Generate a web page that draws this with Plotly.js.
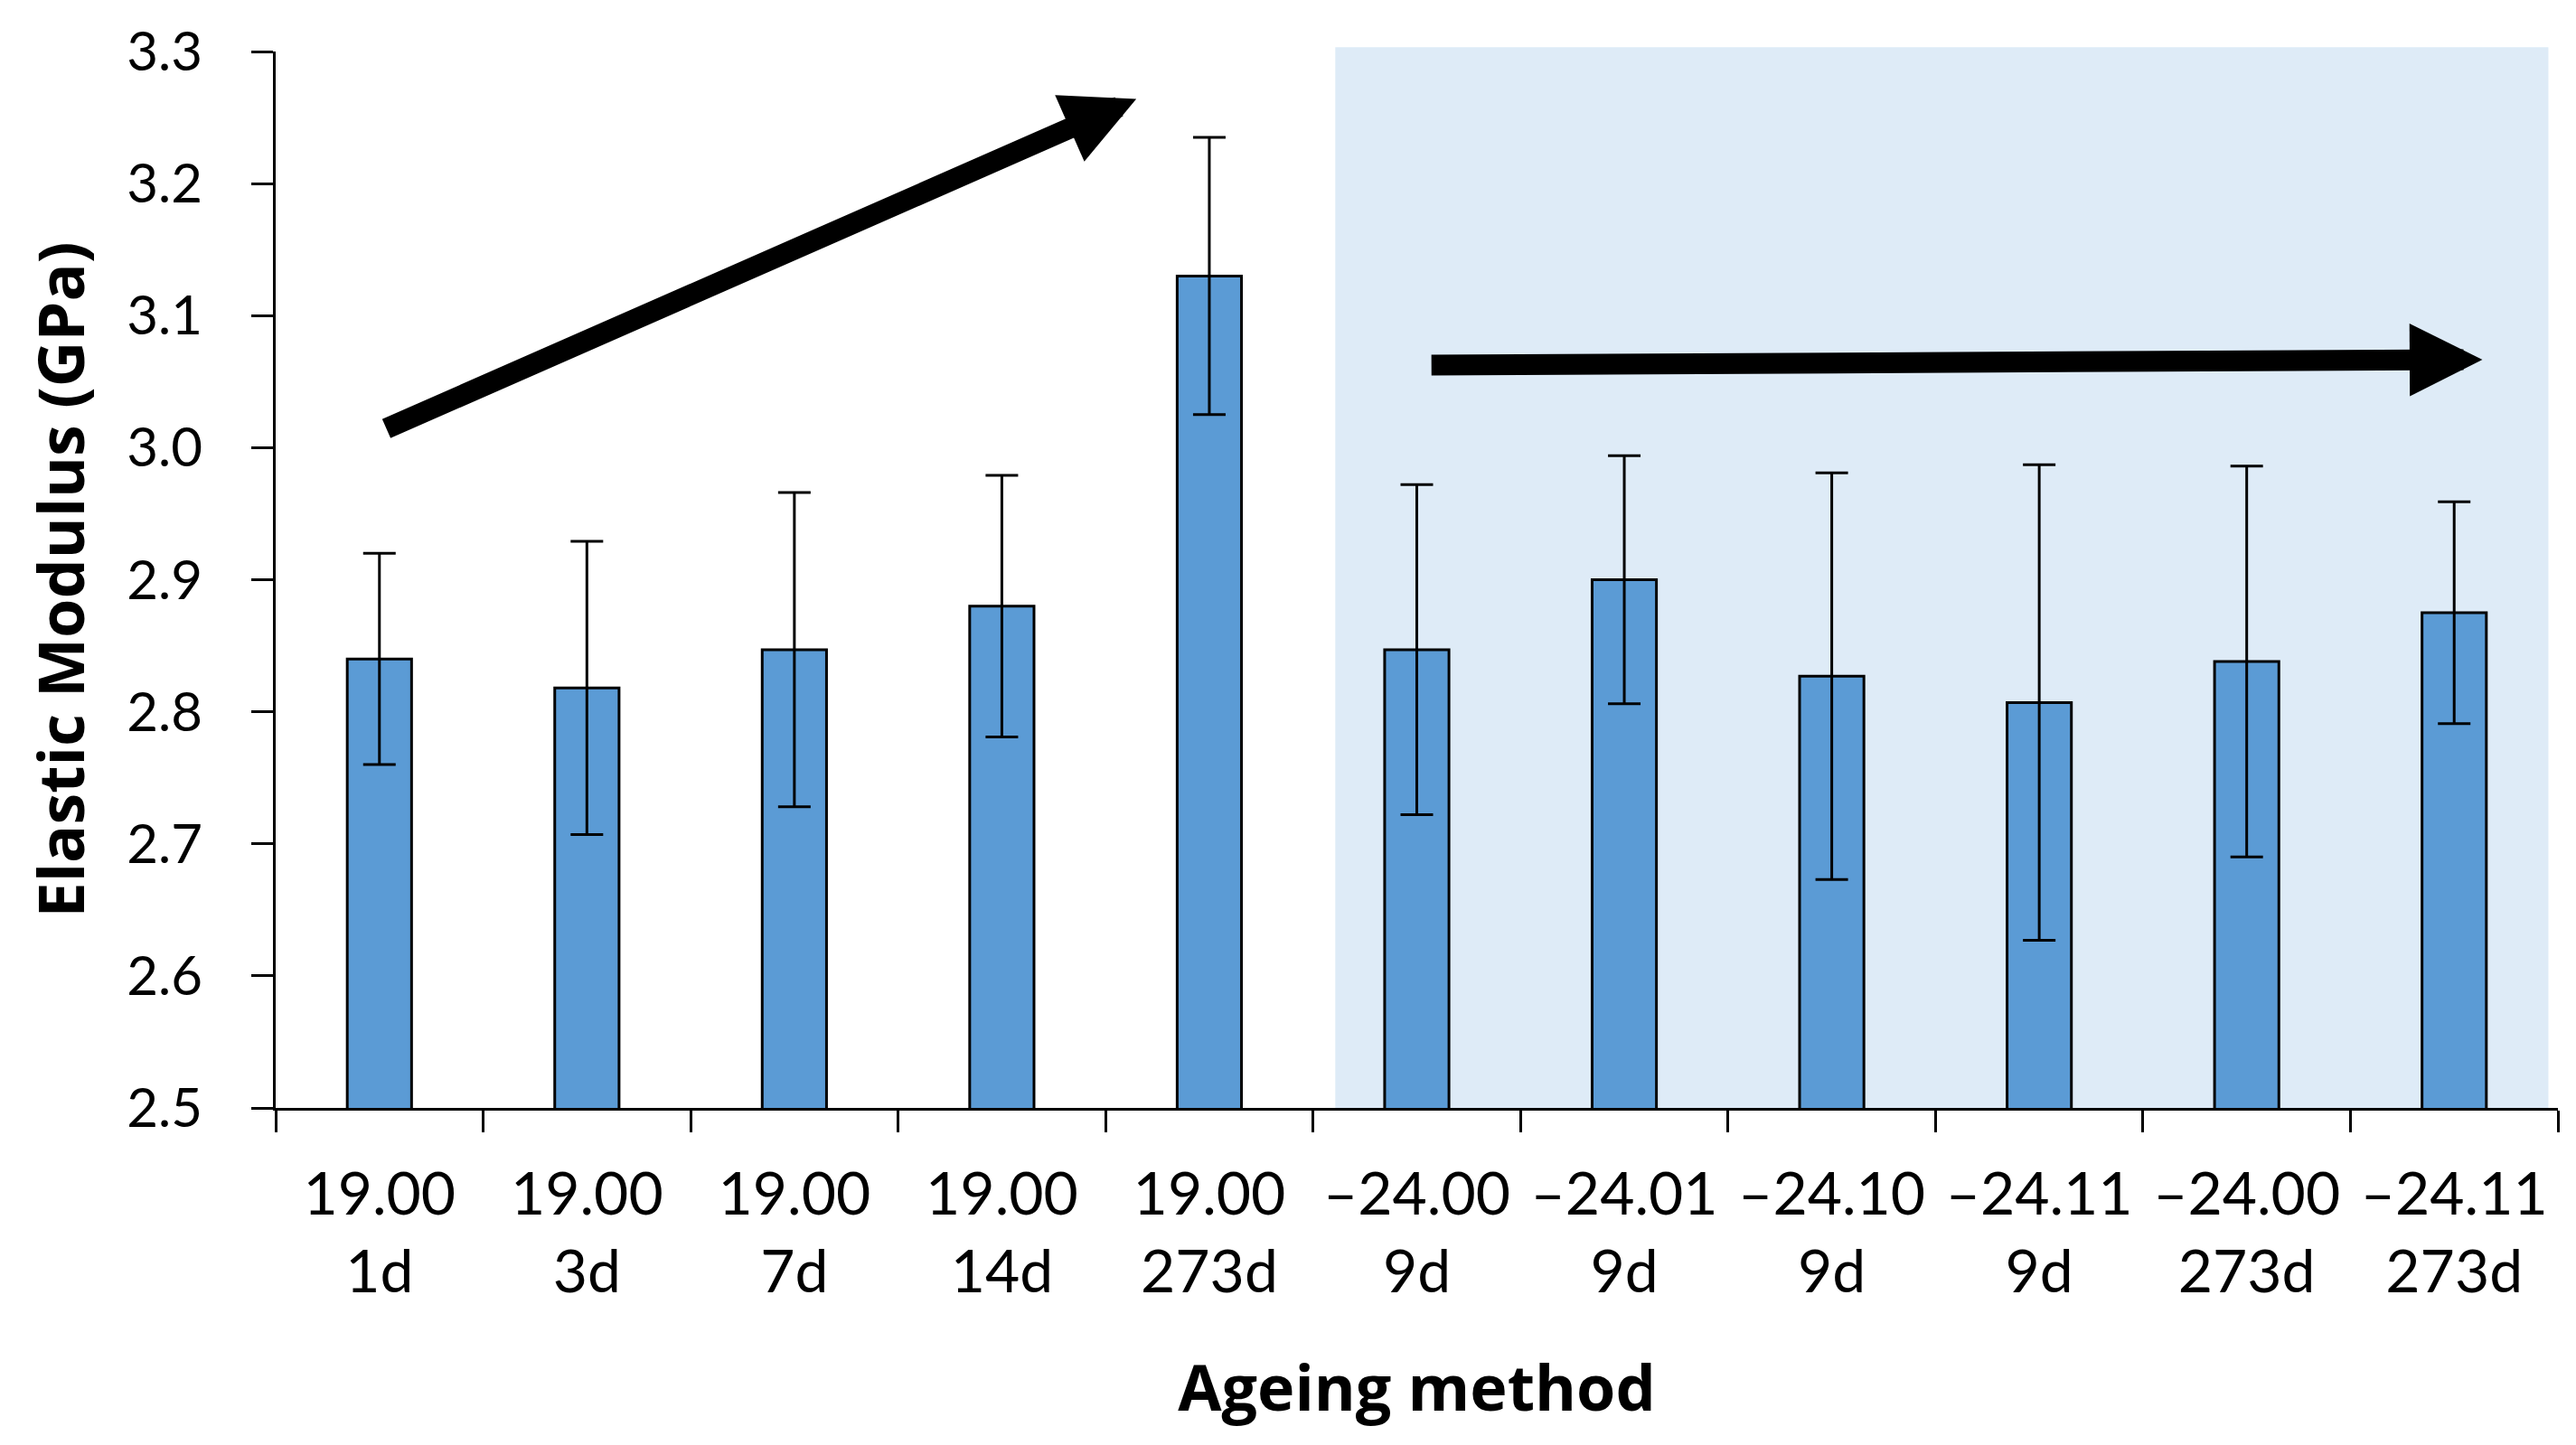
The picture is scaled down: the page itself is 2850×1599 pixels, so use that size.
<!DOCTYPE html>
<html><head><meta charset="utf-8">
<script src="https://cdn.plot.ly/plotly-3.0.1.min.js"></script>
<style>html,body{margin:0;padding:0;background:#fff;} #chart{width:2850px;height:1599px;}</style>
</head><body><div id="chart"></div>
<script>
// Ageing method: temperature code and duration
const methods = ['19.00','19.00','19.00','19.00','19.00','–24.00','–24.01','–24.10','–24.11','–24.00','–24.11'];
const durations = ['1d','3d','7d','14d','273d','9d','9d','9d','9d','273d','273d'];
// Elastic modulus (GPa) and error (±)
const modulus = [2.840, 2.818, 2.847, 2.880, 3.130, 2.847, 2.900, 2.827, 2.807, 2.838, 2.875];
const modulusErr = [0.080, 0.111, 0.119, 0.099, 0.105, 0.125, 0.094, 0.154, 0.180, 0.148, 0.084];
const yTickVals = [2.5, 2.6, 2.7, 2.8, 2.9, 3.0, 3.1, 3.2, 3.3];

const labels = methods.map((m, i) => m + '<br>' + durations[i]);

const trace = {
  type: 'bar',
  x: labels,
  y: modulus,
  width: 0.31,
  marker: {color: '#5B9BD5', line: {color: '#000000', width: 3}},
  error_y: {type: 'data', array: modulusErr, visible: true, color: '#000000', thickness: 3, width: 18},
  hoverinfo: 'x+y'
};

const layout = {
  width: 2850, height: 1599,
  margin: {l: 305, r: 20, t: 57, b: 373, pad: 0},
  paper_bgcolor: '#ffffff', plot_bgcolor: 'rgba(0,0,0,0)',
  showlegend: false,
  xaxis: {
    type: 'category',
    showline: true, linecolor: '#000000', linewidth: 3,
    ticks: 'outside', tickson: 'boundaries', ticklen: 24, tickwidth: 3, tickcolor: '#000000',
    showgrid: false, zeroline: false,
    tickfont: {family: 'Lato', size: 66, color: '#000000'},
    ticklabelstandoff: 36,
    title: {text: 'Ageing method', font: {family: 'Open Sans', size: 70, weight: 'bold', color: '#000000'}, standoff: 69}
  },
  yaxis: {
    range: [2.5, 3.3],
    tickvals: yTickVals, tickformat: '.1f',
    showline: true, linecolor: '#000000', linewidth: 3,
    ticks: 'outside', ticklen: 24, tickwidth: 3, tickcolor: '#000000',
    showgrid: false, zeroline: false,
    tickfont: {family: 'Lato', size: 60, color: '#000000'},
    ticklabelstandoff: 42,
    title: {text: 'Elastic Modulus (GPa)', font: {family: 'Open Sans', size: 70, weight: 'bold', color: '#000000'}, standoff: 24}
  },
  shapes: [{
    type: 'rect', layer: 'below',
    xref: 'x', yref: 'paper',
    x0: 4.607, x1: 10.454, y0: 0, y1: 1.004,
    fillcolor: '#DEEBF7', line: {width: 0}
  }],
  annotations: [
    {xref: 'x', yref: 'y', axref: 'x', ayref: 'y', x: 3.648, y: 3.264, ax: 0.027, ay: 3.014,
     text: '', showarrow: true, arrowhead: 2, arrowsize: 0.7, arrowwidth: 23, arrowcolor: '#000000'},
    {xref: 'x', yref: 'y', axref: 'x', ayref: 'y', x: 10.136, y: 3.0667, ax: 5.064, ay: 3.0625,
     text: '', showarrow: true, arrowhead: 2, arrowsize: 0.7, arrowwidth: 23, arrowcolor: '#000000'}
  ]
};

Plotly.newPlot('chart', [trace], layout, {displayModeBar: false, staticPlot: true});
</script>
</body></html>
